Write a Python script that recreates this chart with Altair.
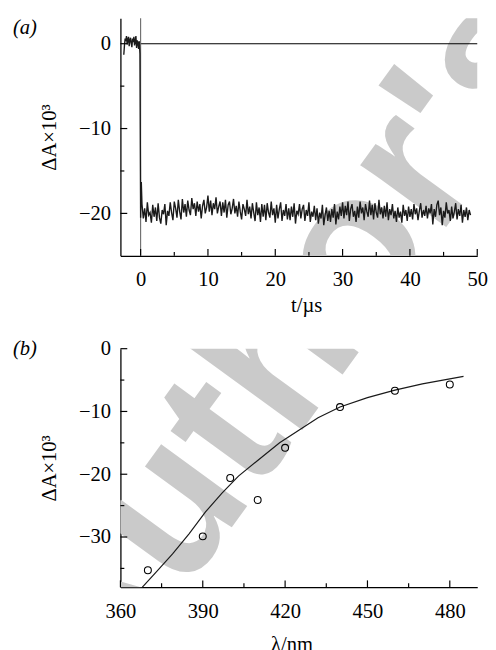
import altair as alt
import pandas as pd
import numpy as np

# ---------------- Panel (a): transient absorption trace ----------------
pre_start, pre_step = -2.5, 0.1
pre_vals = [-1.3, -0.2, 0.6, 0.3, 0.9, -0.1, 0.5, 0.8, -0.3, 0.4,
            0.7, 0.1, -0.4, 0.6, 0.2, 0.8, -0.2, 0.3, 0.9, -0.5,
            0.4, 0.1, -0.6, 0.3, -1.2]
jump_t = [0.0, 0.1]
jump_vals = [-20.5, -16.3]
post_start, post_step = 0.2, 0.2
post_vals = [
    -18.9, -20.6, -19.4, -21.0, -18.7, -20.2, -19.9, -21.1, -19.0, -20.4,
    -19.3, -20.9, -18.8, -20.5, -21.2, -19.6, -20.1, -18.9, -21.4, -19.7,
    -20.3, -18.7, -19.9, -20.8, -18.6, -19.4, -20.5, -18.4, -19.8, -20.7,
    -18.3, -19.9, -18.9, -20.4, -18.5, -19.6, -20.2, -18.2, -19.5, -18.8,
    -20.3, -18.6, -19.8, -18.9, -20.6, -19.1, -18.4, -20.0, -19.3, -17.9,
    -19.8, -18.5, -20.2, -18.8, -19.5, -18.1, -20.0, -19.2, -18.6, -20.3,
    -18.7, -19.9, -18.4, -20.5, -19.0, -18.6, -20.1, -19.4, -18.3, -20.0,
    -19.1, -20.4, -18.6, -19.8, -20.7, -18.9, -19.5, -20.3, -18.4, -20.1,
    -19.2, -20.6, -18.8, -19.9, -20.9, -18.7, -20.2, -19.3, -21.0, -18.9,
    -20.4, -19.0, -20.8, -18.8, -19.9, -20.5, -18.6, -20.2, -19.4, -21.1,
    -19.0, -20.6, -19.5, -18.7, -20.9, -19.6, -20.3, -18.9, -20.7, -19.4,
    -20.8, -19.2, -20.4, -18.8, -21.2, -19.7, -20.1, -18.9, -20.6, -19.5,
    -19.0, -20.9, -19.6, -20.3, -18.7, -21.0, -19.8, -20.4, -19.1, -20.8,
    -19.4, -21.2, -19.9, -20.6, -19.0, -21.4, -20.2, -19.3, -20.9, -19.7,
    -21.0, -19.5, -20.5, -18.9, -21.3, -19.8, -20.7, -19.2, -20.3, -18.7,
    -20.6, -19.1, -20.2, -18.6, -20.9, -19.5, -18.9, -20.4, -19.7, -21.0,
    -19.2, -20.5, -18.6, -20.0, -19.3, -20.8, -18.9, -19.8, -20.4, -18.5,
    -20.2, -19.0, -20.7, -18.8, -19.9, -20.5, -18.4, -20.1, -19.3, -20.6,
    -19.1, -20.4, -18.7, -20.8, -19.5, -20.2, -18.9, -20.6, -19.7, -21.0,
    -19.3, -20.5, -19.8, -21.1, -19.0, -20.3, -19.6, -20.9, -19.2, -20.4,
    -19.5, -20.7, -18.9, -20.1, -19.4, -20.8, -19.7, -18.8, -20.5, -19.6,
    -20.3, -19.1, -20.6, -19.4, -20.0, -18.9, -21.3, -19.5, -20.4, -19.0,
    -18.5, -20.2, -19.3, -21.4, -19.7, -20.5, -18.7, -20.0, -19.6, -20.9,
    -19.2, -20.6, -19.8, -18.8, -20.7, -19.5, -20.3, -19.0, -21.1, -19.6,
    -20.4, -19.3, -20.8, -19.6, -20.2,
]

a_x_major = [0, 10, 20, 30, 40, 50]
a_x_minor = [5, 15, 25, 35, 45]
a_y_major = [0, -10, -20]
a_y_minor = [-5, -15]

# ---------------- Panel (b): spectrum ----------------
wl_points = [370, 390, 400, 410, 420, 440, 460, 480]
dA_points = [-35.3, -29.9, -20.6, -24.1, -15.8, -9.3, -6.7, -5.7]
wl_fit = [368, 373, 379, 385, 391, 397, 403, 410, 418, 425, 432, 440, 450, 460, 470, 480, 485]
dA_fit = [-38.0, -35.6, -32.7, -29.5, -26.0, -23.0, -20.3, -17.8, -15.0, -13.0, -11.0,
          -9.3, -7.8, -6.6, -5.6, -4.8, -4.4]

b_x_major = [360, 390, 420, 450, 480]
b_x_minor = [375, 405, 435, 465]
b_y_major = [0, -10, -20, -30]
b_y_minor = [-5, -15, -25, -35]

watermark = ["Author's"]

# ---------------- build ----------------
FONT = "Liberation Serif"
FS = 21
W = 365
HA = 243
HB = 244

t_vals = (list(np.round(pre_start + pre_step * np.arange(len(pre_vals)), 2))
          + jump_t
          + list(np.round(post_start + post_step * np.arange(len(post_vals)), 2)))
trace_df = pd.DataFrame({"t": t_vals, "dA": pre_vals + jump_vals + post_vals})


def axis(values, title, pad, tpad, fmt="d", title_x=None):
    kw = dict(values=values, title=title, ticks=False, tickSize=0, grid=False,
              labelPadding=pad, titlePadding=tpad, domainColor="black", domainWidth=1.3,
              labelFont=FONT, titleFont=FONT, labelFontSize=FS, titleFontSize=FS,
              titleFontWeight="normal", labelColor="black", titleColor="black",
              format=fmt, labelFlush=False)
    if title_x is not None:
        kw["titleX"] = title_x
    return alt.Axis(**kw)


def tick_layers(xs_major, xs_minor, ys_major, ys_minor, xscale, yscale, h):
    layers = []
    for vals, ln in ((xs_major, 7), (xs_minor, 4)):
        layers.append(alt.Chart(pd.DataFrame({"v": vals})).mark_rule(color="black", strokeWidth=1.2).encode(
            x=alt.X("v:Q", scale=xscale), y=alt.value(h), y2=alt.value(h - ln)))
    for vals, ln in ((ys_major, 7), (ys_minor, 4)):
        layers.append(alt.Chart(pd.DataFrame({"v": vals})).mark_rule(color="black", strokeWidth=1.2).encode(
            y=alt.Y("v:Q", scale=yscale), x=alt.value(0), x2=alt.value(ln)))
    return layers


def wm_layer(cx, cy):
    return alt.Chart(pd.DataFrame({"w": watermark})).mark_text(
        font="Liberation Sans", fontWeight="bold", fontSize=205, color="#cacaca",
        angle=306, align="center", baseline="middle", clip=True
    ).encode(text="w:N", x=alt.value(cx), y=alt.value(cy))


def label_layer(txt, y):
    return alt.Chart(pd.DataFrame({"l": [txt]})).mark_text(
        font=FONT, fontSize=FS, fontStyle="italic", color="black", align="left", baseline="middle"
    ).encode(text="l:N", x=alt.value(-110), y=alt.value(y))


# Panel a
xs_a = alt.Scale(domain=[-3, 50], nice=False, zero=False)
ys_a = alt.Scale(domain=[-25, 3], nice=False, zero=False)

trace = alt.Chart(trace_df).mark_line(color="#1a1a1a", strokeWidth=1.4).encode(
    x=alt.X("t:Q", scale=xs_a, axis=axis(a_x_major, "t/µs", 13, 6, title_x=190)),
    y=alt.Y("dA:Q", scale=ys_a, axis=axis(a_y_major, "ΔA×10³", 10, 20)),
)
zero_line = alt.Chart(pd.DataFrame({"t0": [0], "t1": [50], "y": [0]})).mark_rule(
    color="black", strokeWidth=1.1).encode(
    x=alt.X("t0:Q", scale=xs_a), x2="t1:Q", y=alt.Y("y:Q", scale=ys_a))
trigger = alt.Chart(pd.DataFrame({"t0": [0]})).mark_rule(color="#666666", strokeWidth=1.1).encode(
    x=alt.X("t0:Q", scale=xs_a), y=alt.value(0), y2=alt.value(HA))

panel_a = alt.layer(
    wm_layer(172, 330), zero_line, trigger, trace,
    *tick_layers(a_x_major, a_x_minor, a_y_major, a_y_minor, xs_a, ys_a, HA),
    label_layer("(a)", 10),
).properties(width=W, height=HA)

# Panel b
xs_b = alt.Scale(domain=[360, 490], nice=False, zero=False)
ys_b = alt.Scale(domain=[-38, 0], nice=False, zero=False)

fit = alt.Chart(pd.DataFrame({"wl": wl_fit, "dA": dA_fit})).mark_line(color="#1a1a1a", strokeWidth=1.2).encode(
    x=alt.X("wl:Q", scale=xs_b, axis=axis(b_x_major, "λ/nm", 14, 13, title_x=175)),
    y=alt.Y("dA:Q", scale=ys_b, axis=axis(b_y_major, "ΔA×10³", 10, 20)),
)
pts = alt.Chart(pd.DataFrame({"wl": wl_points, "dA": dA_points})).mark_point(
    shape="circle", filled=False, size=50, color="black", strokeWidth=1.1, opacity=1).encode(
    x=alt.X("wl:Q", scale=xs_b), y=alt.Y("dA:Q", scale=ys_b))

panel_b = alt.layer(
    wm_layer(172, -3), fit, pts,
    *tick_layers(b_x_major, b_x_minor, b_y_major, b_y_minor, xs_b, ys_b, HB),
    label_layer("(b)", 0),
).properties(width=W, height=HB)

chart = alt.vconcat(panel_a, panel_b, spacing=23).properties(
    padding={"left": 5, "top": 2, "right": 0, "bottom": 0}
).configure_view(stroke=None)

chart.save("out.html", embed_options={"renderer": "svg", "actions": False})
